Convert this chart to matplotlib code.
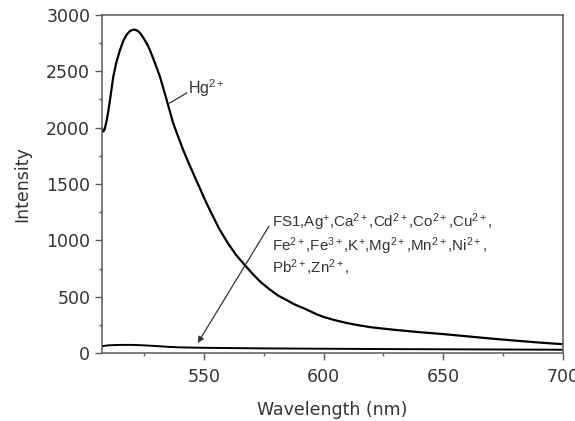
import matplotlib
matplotlib.use("Agg")
import matplotlib.pyplot as plt
from matplotlib.ticker import MultipleLocator

# Hg2+ emission spectrum
wl_hg = [507.5, 508.0, 508.6, 509.5, 510.3, 511.0, 512.2, 513.5, 515.0, 516.5,
         517.8, 519.2, 520.5, 521.5, 522.5, 523.5, 525.0, 526.3, 527.5, 529.5,
         531.7, 534.5, 537.2, 539.3, 541.4, 543.8, 546.2, 548.3, 550.7, 553.2,
         556.5, 560.1, 563.5, 567.1, 570.5, 574.0, 577.5, 581.0, 585.0, 588.0,
         592.0, 597.0, 600.0, 605.0, 610.0, 615.0, 620.0, 630.0, 640.0, 650.0,
         660.0, 670.0, 680.0, 690.0, 700.0]
int_hg = [1990, 1965, 1985, 2068, 2170, 2270, 2452, 2580, 2689, 2775,
          2825, 2858, 2870, 2868, 2858, 2838, 2790, 2742, 2689, 2580,
          2452, 2246, 2041, 1920, 1802, 1680, 1565, 1465, 1350, 1240,
          1100, 974, 870, 781, 700, 625, 565, 510, 465, 430,
          395, 345, 320, 290, 265, 245, 228, 205, 185, 168,
          148, 128, 110, 93, 78]

# FS1 alone and with the other metal ions
wl_base = [507.5, 510, 515, 520, 525, 530, 535, 540, 548, 560, 575, 600,
           625, 650, 675, 700]
int_base = [60, 68, 72, 72, 68, 62, 55, 50, 47, 44, 41, 38,
            35, 33, 31, 29]

ion_lines = [r"FS1,Ag$^{+}$,Ca$^{2+}$,Cd$^{2+}$,Co$^{2+}$,Cu$^{2+}$,",
             r"Fe$^{2+}$,Fe$^{3+}$,K$^{+}$,Mg$^{2+}$,Mn$^{2+}$,Ni$^{2+}$,",
             r"Pb$^{2+}$,Zn$^{2+}$,"]

plt.rcParams["mathtext.fontset"] = "custom"
plt.rcParams["mathtext.rm"] = "Liberation Sans"
plt.rcParams["mathtext.it"] = "Liberation Sans:italic"
plt.rcParams["mathtext.bf"] = "Liberation Sans:bold"

txt = "#333333"
spine = "#5a5a5a"
lab_font = ["Liberation Sans", "DejaVu Sans"]

fig = plt.figure(figsize=(5.75, 4.21), dpi=100)
ax = fig.add_axes([0.1774, 0.1615, 0.8017, 0.8029])

ax.plot(wl_hg, int_hg, color="black", lw=1.6, solid_joinstyle="round")
ax.plot(wl_base, int_base, color="black", lw=1.4)

ax.set_xlim(507.5, 700)
ax.set_ylim(0, 3000)
ax.xaxis.set_major_locator(MultipleLocator(50))
ax.xaxis.set_minor_locator(MultipleLocator(25))
ax.yaxis.set_major_locator(MultipleLocator(500))
ax.yaxis.set_minor_locator(MultipleLocator(250))

for s in ax.spines.values():
    s.set_color(spine)
    s.set_linewidth(1.1)
ax.tick_params(which="both", direction="out", color=spine, width=1.0,
               top=False, right=False)
ax.tick_params(which="major", length=5, labelsize=12.5, labelcolor=txt)
ax.tick_params(which="minor", length=2.5)
ax.tick_params(axis="x", pad=5.5)
ax.tick_params(axis="y", pad=3.5)

ax.set_xlabel("Wavelength (nm)", fontsize=12.5, color=txt, labelpad=11)
ax.set_ylabel("Intensity", fontsize=12.5, color=txt, labelpad=11)

# Hg2+ label with leader line
ax.plot([535.8, 542.9], [2219, 2308], color=txt, lw=0.9)
ax.text(543.5, 2352, r"Hg$^{2+}$", fontsize=11.5, color=txt, family=lab_font,
        va="center", ha="left")

# other ions label with arrow to the baseline
ax.annotate("", xy=(547.5, 89), xytext=(577.2, 1125),
            arrowprops=dict(arrowstyle="-|>", color=txt, lw=0.9,
                            mutation_scale=9, shrinkA=0, shrinkB=0))
for y, line in zip([1165, 945, 757], ion_lines):
    ax.text(578.3, y, line, fontsize=10.9, color=txt, family=lab_font,
            va="center", ha="left")

fig.savefig("out.png", dpi=100)
